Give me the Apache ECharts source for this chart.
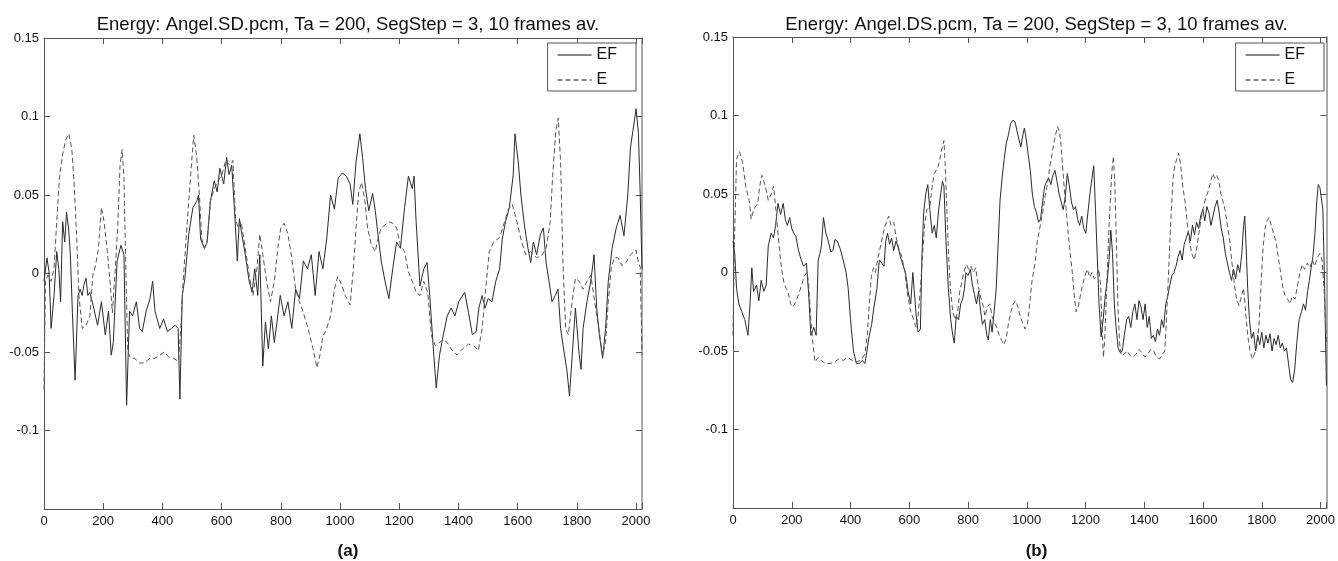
<!DOCTYPE html>
<html>
<head>
<meta charset="utf-8">
<script src="https://cdn.jsdelivr.net/npm/echarts@6/dist/echarts.min.js"></script>
<style>
  html, body { margin: 0; padding: 0; background: #fff; }
  #main { width: 1338px; height: 561px; }
</style>
</head>
<body>
<div id="main"></div>
<script>
// [x, energy] vertices
const efLeft = [
  [0,-0.005],[10,0.010],[17,0.001],[24,-0.035],[34,-0.014],[43,0.014],[50,0.003],[56,-0.018],
  [63,0.033],[70,0.020],[76,0.039],[83,0.029],[89,0.012],[96,-0.025],[105,-0.068],[115,-0.014],
  [122,-0.010],[129,-0.014],[135,-0.007],[142,-0.003],[148,-0.014],[155,-0.012],[168,-0.022],
  [181,-0.033],[194,-0.018],[207,-0.039],[218,-0.024],[227,-0.052],[234,-0.044],[247,0.008],
  [260,0.018],[270,0.012],[279,-0.084],[289,-0.024],[299,-0.027],[312,-0.018],[323,-0.035],
  [332,-0.037],[345,-0.024],[358,-0.016],[367,-0.005],[375,-0.024],[391,-0.035],[404,-0.029],
  [417,-0.037],[430,-0.035],[443,-0.033],[453,-0.035],[459,-0.080],[467,-0.014],[476,-0.003],
  [489,0.025],[503,0.042],[516,0.046],[522,0.050],[529,0.022],[542,0.016],[551,0.020],[562,0.046],
  [575,0.059],[585,0.052],[594,0.067],[607,0.057],[617,0.074],[625,0.063],[634,0.069],[643,0.042],
  [653,0.008],[660,0.035],[669,0.024],[680,0.012],[693,-0.005],[703,-0.012],[712,0.003],
  [722,-0.014],[729,0.012],[739,-0.059],[748,-0.031],[758,-0.048],[768,-0.027],[778,-0.044],
  [787,-0.031],[798,-0.014],[811,-0.027],[824,-0.018],[837,-0.035],[850,-0.010],[863,-0.016],
  [876,0.008],[890,0.003],[903,0.012],[916,-0.014],[929,0.014],[942,0.003],[955,0.022],[968,0.050],
  [981,0.041],[994,0.061],[1008,0.064],[1021,0.062],[1034,0.057],[1043,0.044],[1054,0.071],
  [1067,0.089],[1076,0.074],[1086,0.054],[1097,0.040],[1110,0.051],[1119,0.040],[1128,0.025],
  [1139,0.008],[1152,-0.005],[1165,-0.016],[1178,0.003],[1191,0.020],[1204,0.016],[1218,0.042],
  [1231,0.062],[1244,0.054],[1250,0.062],[1257,0.033],[1270,-0.008],[1283,0.003],[1294,0.007],
  [1303,-0.014],[1316,-0.050],[1325,-0.073],[1336,-0.052],[1349,-0.039],[1362,-0.027],[1375,-0.022],
  [1388,-0.027],[1401,-0.018],[1421,-0.012],[1434,-0.025],[1447,-0.039],[1460,-0.037],[1469,-0.022],
  [1480,-0.014],[1490,-0.022],[1500,-0.016],[1513,-0.018],[1526,-0.005],[1539,0.003],[1548,0.022],
  [1559,0.033],[1572,0.042],[1585,0.063],[1591,0.089],[1602,0.071],[1611,0.050],[1624,0.029],
  [1635,0.016],[1644,0.007],[1653,0.020],[1664,0.012],[1677,0.025],[1687,0.029],[1696,0.007],
  [1706,-0.005],[1716,-0.018],[1727,-0.014],[1736,-0.010],[1745,-0.035],[1755,-0.048],[1766,-0.061],
  [1775,-0.078],[1784,-0.053],[1795,-0.022],[1808,-0.052],[1814,-0.061],[1821,-0.035],[1834,-0.018],
  [1847,-0.005],[1858,0.012],[1867,-0.022],[1876,-0.039],[1887,-0.054],[1897,-0.035],[1906,-0.005],
  [1919,0.016],[1933,0.029],[1946,0.037],[1959,0.024],[1972,0.050],[1981,0.080],[2000,0.105],
  [2008,0.089],[2014,0.050],[2020,0.003]
];
const eLeft = [
  [0,-0.074],[5,-0.005],[13,-0.001],[24,-0.005],[34,0.003],[43,0.033],[52,0.061],[63,0.076],
  [73,0.085],[84,0.089],[94,0.079],[102,0.057],[110,0.025],[118,-0.014],[129,-0.035],[142,-0.033],
  [155,-0.027],[165,-0.001],[174,0.005],[184,0.016],[194,0.042],[203,0.033],[214,0.014],[223,-0.005],
  [231,-0.025],[240,0.001],[249,0.029],[257,0.069],[264,0.079],[270,0.061],[276,0.007],[283,-0.050],
  [293,-0.054],[306,-0.054],[323,-0.057],[338,-0.057],[358,-0.054],[375,-0.054],[391,-0.052],
  [407,-0.050],[420,-0.053],[437,-0.054],[454,-0.056],[462,-0.035],[470,-0.005],[480,0.022],
  [489,0.046],[499,0.072],[506,0.088],[516,0.074],[525,0.050],[533,0.022],[542,0.016],[551,0.020],
  [562,0.046],[575,0.054],[588,0.059],[601,0.063],[614,0.072],[627,0.069],[638,0.072],[647,0.035],
  [656,0.029],[666,0.033],[680,0.016],[693,-0.001],[706,-0.014],[719,0.003],[729,0.025],[739,0.012],
  [752,-0.005],[765,-0.018],[778,-0.005],[791,0.018],[800,0.029],[811,0.032],[824,0.025],[837,0.010],
  [850,-0.010],[863,-0.018],[876,-0.025],[892,-0.035],[909,-0.048],[922,-0.060],[932,-0.052],
  [942,-0.040],[955,-0.035],[968,-0.027],[981,-0.010],[992,-0.002],[1005,-0.007],[1018,-0.014],
  [1034,-0.020],[1044,0.001],[1054,0.029],[1063,0.052],[1073,0.058],[1084,0.046],[1093,0.029],
  [1106,0.018],[1119,0.014],[1128,0.022],[1139,0.029],[1152,0.031],[1165,0.033],[1178,0.032],
  [1191,0.029],[1204,0.018],[1218,0.014],[1231,0.001],[1244,-0.005],[1257,-0.012],[1270,-0.014],
  [1283,-0.005],[1296,-0.012],[1309,-0.040],[1322,-0.046],[1336,-0.044],[1349,-0.042],[1362,-0.044],
  [1375,-0.048],[1395,-0.052],[1414,-0.048],[1434,-0.045],[1451,-0.046],[1467,-0.049],[1480,-0.035],
  [1490,-0.014],[1504,0.014],[1519,0.020],[1539,0.023],[1556,0.033],[1569,0.041],[1582,0.044],
  [1595,0.035],[1611,0.022],[1627,0.012],[1644,0.014],[1664,0.010],[1683,0.012],[1696,0.016],
  [1710,0.033],[1719,0.065],[1729,0.091],[1737,0.099],[1745,0.071],[1753,0.007],[1762,-0.035],
  [1771,-0.039],[1784,-0.018],[1795,-0.003],[1808,-0.005],[1821,-0.010],[1834,-0.005],[1847,-0.001],
  [1860,-0.018],[1874,-0.035],[1887,-0.052],[1897,-0.044],[1906,-0.018],[1916,0.003],[1926,0.010],
  [1939,0.010],[1952,0.005],[1966,0.007],[1981,0.012],[2000,0.015],[2008,0.007],[2014,0.004],
  [2020,-0.052]
];
const efRight = [
  [0,0.020],[6,0.012],[12,-0.010],[20,-0.020],[30,-0.025],[40,-0.030],[51,-0.040],[58,-0.020],
  [64,0.003],[70,-0.012],[80,-0.008],[88,-0.018],[96,-0.005],[105,-0.012],[113,-0.008],[120,0.017],
  [130,0.025],[138,0.022],[145,0.030],[153,0.044],[162,0.037],[171,0.044],[178,0.034],[185,0.030],
  [193,0.035],[200,0.028],[207,0.025],[214,0.023],[222,0.015],[229,0.010],[240,0.004],[250,0.006],
  [258,-0.015],[265,-0.040],[275,-0.035],[283,-0.040],[290,0.008],[296,0.012],[301,0.017],[308,0.035],
  [316,0.025],[323,0.021],[333,0.013],[340,0.014],[347,0.021],[355,0.020],[365,0.015],[375,0.008],
  [385,0.000],[392,-0.010],[400,-0.030],[410,-0.050],[420,-0.058],[430,-0.058],[440,-0.056],
  [449,-0.058],[456,-0.050],[464,-0.040],[472,-0.033],[480,-0.022],[490,-0.010],[498,0.008],
  [506,0.006],[514,0.004],[520,0.020],[526,0.025],[533,0.018],[540,0.022],[547,0.014],[555,0.020],
  [562,0.016],[570,0.010],[578,0.005],[587,0.000],[596,-0.012],[605,-0.020],[612,0.000],[623,-0.026],
  [630,-0.038],[638,-0.036],[643,0.010],[649,0.038],[656,0.050],[663,0.056],[670,0.040],[678,0.025],
  [685,0.030],[692,0.022],[700,0.040],[707,0.050],[713,0.058],[718,0.055],[725,0.020],[733,-0.010],
  [741,-0.030],[748,-0.040],[753,-0.045],[760,-0.028],[768,-0.030],[775,-0.020],[782,-0.017],
  [788,-0.010],[793,0.000],[800,-0.002],[808,0.002],[815,-0.008],[822,-0.014],[829,-0.020],
  [836,-0.012],[843,-0.025],[849,-0.033],[857,-0.030],[864,-0.040],[869,-0.043],[876,-0.030],
  [882,-0.038],[889,-0.025],[896,-0.010],[903,0.020],[909,0.046],[916,0.060],[923,0.072],[930,0.082],
  [938,0.088],[945,0.095],[953,0.097],[960,0.096],[967,0.090],[973,0.085],[980,0.080],[987,0.088],
  [992,0.092],[998,0.085],[1005,0.075],[1012,0.065],[1019,0.050],[1026,0.042],[1033,0.038],
  [1040,0.032],[1047,0.034],[1054,0.045],[1061,0.055],[1068,0.058],[1075,0.060],[1082,0.056],
  [1089,0.062],[1096,0.065],[1103,0.058],[1110,0.050],[1117,0.045],[1124,0.040],[1131,0.048],
  [1138,0.063],[1145,0.055],[1152,0.045],[1159,0.040],[1166,0.042],[1173,0.034],[1180,0.030],
  [1187,0.036],[1194,0.028],[1201,0.025],[1208,0.038],[1215,0.050],[1222,0.060],[1228,0.068],
  [1234,0.040],[1240,0.010],[1246,-0.020],[1253,-0.041],[1260,-0.030],[1267,-0.015],[1274,-0.005],
  [1281,0.010],[1286,0.027],[1292,0.012],[1298,-0.020],[1304,-0.035],[1311,-0.048],[1318,-0.051],
  [1325,-0.050],[1332,-0.040],[1340,-0.030],[1347,-0.028],[1354,-0.035],[1361,-0.025],[1368,-0.020],
  [1375,-0.030],[1382,-0.018],[1389,-0.022],[1396,-0.030],[1403,-0.020],[1410,-0.035],[1417,-0.028],
  [1424,-0.042],[1431,-0.040],[1438,-0.044],[1445,-0.036],[1452,-0.040],[1459,-0.030],[1466,-0.035],
  [1473,-0.020],[1480,-0.015],[1487,-0.008],[1494,-0.002],[1501,0.000],[1508,0.004],[1515,0.010],
  [1522,0.014],[1529,0.008],[1536,0.018],[1543,0.022],[1550,0.026],[1557,0.020],[1564,0.030],
  [1571,0.024],[1578,0.032],[1585,0.028],[1592,0.036],[1599,0.040],[1606,0.033],[1613,0.042],
  [1620,0.038],[1627,0.030],[1634,0.036],[1641,0.042],[1648,0.046],[1655,0.038],[1662,0.028],
  [1669,0.022],[1676,0.012],[1683,0.006],[1690,0.000],[1697,-0.005],[1704,0.002],[1711,-0.004],
  [1718,0.005],[1725,0.000],[1732,0.012],[1738,0.030],[1742,0.036],[1747,0.015],[1752,-0.010],
  [1758,-0.030],[1765,-0.042],[1772,-0.038],[1779,-0.050],[1786,-0.040],[1793,-0.046],[1800,-0.038],
  [1807,-0.048],[1814,-0.040],[1821,-0.045],[1828,-0.039],[1835,-0.050],[1842,-0.042],[1849,-0.046],
  [1856,-0.040],[1863,-0.048],[1870,-0.045],[1877,-0.050],[1884,-0.048],[1891,-0.058],[1898,-0.068],
  [1905,-0.070],[1912,-0.062],[1919,-0.045],[1927,-0.030],[1935,-0.025],[1942,-0.020],[1949,-0.024],
  [1956,-0.012],[1962,-0.005],[1968,0.003],[1974,0.010],[1981,0.025],[1987,0.045],[1992,0.056],
  [1998,0.054],[2003,0.055],[2008,0.040],[2014,-0.010],[2020,-0.072]
];
const eRight = [
  [0,-0.040],[5,0.020],[12,0.072],[22,0.077],[33,0.070],[43,0.055],[55,0.046],[62,0.034],[70,0.040],
  [84,0.044],[91,0.055],[98,0.062],[110,0.055],[120,0.046],[130,0.050],[138,0.055],[145,0.042],
  [153,0.025],[164,0.004],[174,-0.007],[188,-0.013],[196,-0.020],[203,-0.022],[210,-0.020],
  [217,-0.017],[232,-0.009],[243,-0.002],[252,0.000],[258,-0.008],[265,-0.030],[272,-0.045],
  [279,-0.057],[290,-0.054],[300,-0.056],[315,-0.058],[330,-0.058],[345,-0.057],[360,-0.055],
  [375,-0.056],[390,-0.054],[405,-0.056],[420,-0.057],[435,-0.056],[449,-0.052],[457,-0.040],
  [464,-0.020],[471,-0.002],[478,0.003],[485,0.000],[492,0.008],[500,0.015],[508,0.022],[515,0.028],
  [522,0.032],[530,0.036],[538,0.030],[547,0.032],[556,0.022],[565,0.015],[575,0.010],[585,0.000],
  [595,-0.015],[605,-0.025],[615,-0.030],[623,-0.035],[630,-0.028],[638,-0.010],[645,0.010],
  [652,0.030],[660,0.040],[670,0.042],[678,0.055],[685,0.063],[695,0.066],[702,0.070],[710,0.078],
  [718,0.084],[722,0.070],[728,0.040],[734,0.010],[740,-0.010],[748,-0.025],[756,-0.030],[765,-0.025],
  [772,-0.012],[780,-0.005],[788,0.002],[795,0.005],[802,0.002],[810,0.004],[818,0.000],[826,0.003],
  [834,-0.008],[842,-0.015],[850,-0.020],[858,-0.028],[866,-0.022],[874,-0.020],[882,-0.028],
  [890,-0.032],[898,-0.035],[906,-0.040],[914,-0.043],[922,-0.046],[930,-0.042],[938,-0.032],
  [946,-0.025],[954,-0.020],[962,-0.018],[970,-0.022],[978,-0.028],[986,-0.032],[994,-0.036],
  [1002,-0.033],[1010,-0.020],[1018,-0.005],[1028,0.006],[1036,0.020],[1044,0.028],[1054,0.038],
  [1062,0.048],[1069,0.055],[1076,0.064],[1083,0.072],[1090,0.080],[1097,0.087],[1105,0.093],
  [1110,0.090],[1115,0.085],[1121,0.070],[1127,0.055],[1134,0.040],[1141,0.025],[1148,0.012],
  [1155,0.000],[1162,-0.015],[1168,-0.025],[1175,-0.022],[1182,-0.015],[1190,-0.008],[1198,-0.002],
  [1206,0.002],[1214,-0.003],[1222,0.000],[1230,-0.004],[1238,-0.002],[1246,0.002],[1252,-0.010],
  [1256,-0.035],[1261,-0.054],[1266,-0.040],[1272,-0.010],[1278,0.020],[1284,0.045],[1290,0.065],
  [1295,0.074],[1300,0.055],[1305,0.020],[1310,-0.020],[1316,-0.045],[1322,-0.053],[1332,-0.052],
  [1342,-0.050],[1352,-0.053],[1362,-0.054],[1372,-0.052],[1382,-0.049],[1392,-0.051],[1402,-0.054],
  [1412,-0.052],[1422,-0.049],[1432,-0.050],[1442,-0.054],[1452,-0.055],[1462,-0.052],[1470,-0.050],
  [1478,-0.020],[1485,0.010],[1492,0.040],[1498,0.060],[1504,0.068],[1510,0.072],[1517,0.076],
  [1524,0.068],[1531,0.055],[1539,0.045],[1546,0.032],[1554,0.020],[1562,0.012],[1570,0.008],
  [1578,0.015],[1586,0.025],[1594,0.035],[1602,0.042],[1610,0.048],[1618,0.052],[1626,0.058],
  [1633,0.063],[1640,0.060],[1647,0.062],[1654,0.058],[1661,0.050],[1668,0.045],[1675,0.040],
  [1683,0.030],[1691,0.020],[1699,0.005],[1707,-0.008],[1715,-0.018],[1723,-0.021],[1731,-0.015],
  [1738,-0.010],[1745,-0.025],[1752,-0.040],[1760,-0.050],[1768,-0.055],[1775,-0.052],[1782,-0.048],
  [1790,-0.035],[1797,-0.010],[1804,0.015],[1811,0.028],[1818,0.033],[1825,0.035],[1832,0.030],
  [1840,0.025],[1848,0.020],[1856,0.010],[1864,0.000],[1872,-0.010],[1880,-0.015],[1888,-0.017],
  [1896,-0.020],[1904,-0.015],[1913,-0.017],[1922,-0.008],[1930,0.000],[1938,0.005],[1946,0.002],
  [1955,0.006],[1964,0.003],[1972,0.008],[1980,0.004],[1990,0.010],[1998,0.012],[2005,0.008],
  [2012,-0.010],[2020,-0.045]
];
const titles = [
  'Energy: Angel.SD.pcm, Ta = 200, SegStep = 3, 10 frames av.',
  'Energy: Angel.DS.pcm, Ta = 200, SegStep = 3, 10 frames av.'
];
const panelLabels = ['(a)', '(b)'];

const font = 'Liberation Sans, Arial, Helvetica, sans-serif';
const grids = [
  { left: 44, top: 38, width: 598, height: 471 },
  { left: 733, top: 37, width: 597, height: 471 }
];

const chart = echarts.init(document.getElementById('main'));

const xAxes = [], yAxes = [], series = [], legends = [], titleList = [];
grids.forEach(function (g, i) {
  const cx = g.left + g.width / 2;
  titleList.push({
    text: titles[i], left: cx, top: 10, textAlign: 'center',
    textStyle: { fontFamily: font, fontSize: 18.5, fontWeight: 'normal', color: '#111' }
  });
  titleList.push({
    text: panelLabels[i], left: cx, top: 538, textAlign: 'center',
    textStyle: { fontFamily: font, fontSize: 17, fontWeight: 'bold', color: '#111' }
  });
  // bottom / left axes carry the labels
  xAxes.push({
    type: 'value', gridIndex: i, position: 'bottom', min: 0, max: 2020, interval: 200,
    axisLine: { onZero: false, lineStyle: { color: '#555' } },
    axisTick: { inside: true, length: 6, lineStyle: { color: '#555' } },
    axisLabel: {
      margin: 6, color: '#111', fontFamily: font, fontSize: 13,
      formatter: function (v) { return v > 2000 ? '' : String(v); }
    },
    splitLine: { show: false }
  });
  yAxes.push({
    type: 'value', gridIndex: i, position: 'left', min: -0.15, max: 0.15, interval: 0.05,
    axisLine: { show: true, onZero: false, lineStyle: { color: '#555' } },
    axisTick: { show: true, inside: true, length: 6, lineStyle: { color: '#555' } },
    axisLabel: {
      margin: 5, color: '#111', fontFamily: font, fontSize: 13,
      formatter: function (v) {
        const r = parseFloat(v.toFixed(2));
        return r <= -0.15 ? '' : String(r);
      }
    },
    splitLine: { show: false }
  });
  // top / right box edges
  xAxes.push({
    type: 'value', gridIndex: i, position: 'top', min: 0, max: 2020, interval: 200,
    axisLine: { onZero: false, lineStyle: { color: '#555' } },
    axisTick: { inside: true, length: 6, lineStyle: { color: '#555' } },
    axisLabel: { show: false }, splitLine: { show: false }
  });
  yAxes.push({
    type: 'value', gridIndex: i, position: 'right', min: -0.15, max: 0.15, interval: 0.05,
    axisLine: { show: true, onZero: false, lineStyle: { color: '#aaa', width: 2 } },
    axisTick: { show: true, inside: true, length: 6, lineStyle: { color: '#555' } },
    axisLabel: { show: false }, splitLine: { show: false }
  });
  legends.push({
    orient: 'vertical', right: 1338 - (g.left + g.width) + 6, top: 43,
    data: ['EF', 'E'],
    itemWidth: 34, itemHeight: 18, itemGap: 7,
    padding: [3, 19, 2, 9],
    borderColor: '#555', borderWidth: 1, borderRadius: 0,
    backgroundColor: '#fff',
    selectedMode: false,
    itemStyle: { opacity: 0 },
    lineStyle: { color: '#888' },
    textStyle: { fontFamily: font, fontSize: 16, lineHeight: 18, color: '#111' }
  });
});

const sets = [[efLeft, eLeft], [efRight, eRight]];
sets.forEach(function (pair, i) {
  series.push({
    name: 'EF', type: 'line', xAxisIndex: i * 2, yAxisIndex: i * 2,
    data: pair[0], showSymbol: false, symbol: 'none', silent: true,
    color: '#333',
    lineStyle: { color: '#2a2a2a', width: 1 }
  });
  series.push({
    name: 'E', type: 'line', xAxisIndex: i * 2, yAxisIndex: i * 2,
    data: pair[1], showSymbol: false, symbol: 'none', silent: true,
    color: '#555',
    lineStyle: { color: '#555', width: 1, type: [5, 3] }
  });
});

chart.setOption({
  animation: false,
  backgroundColor: '#fff',
  title: titleList,
  legend: legends,
  grid: grids,
  xAxis: xAxes,
  yAxis: yAxes,
  series: series
});
</script>
</body>
</html>
